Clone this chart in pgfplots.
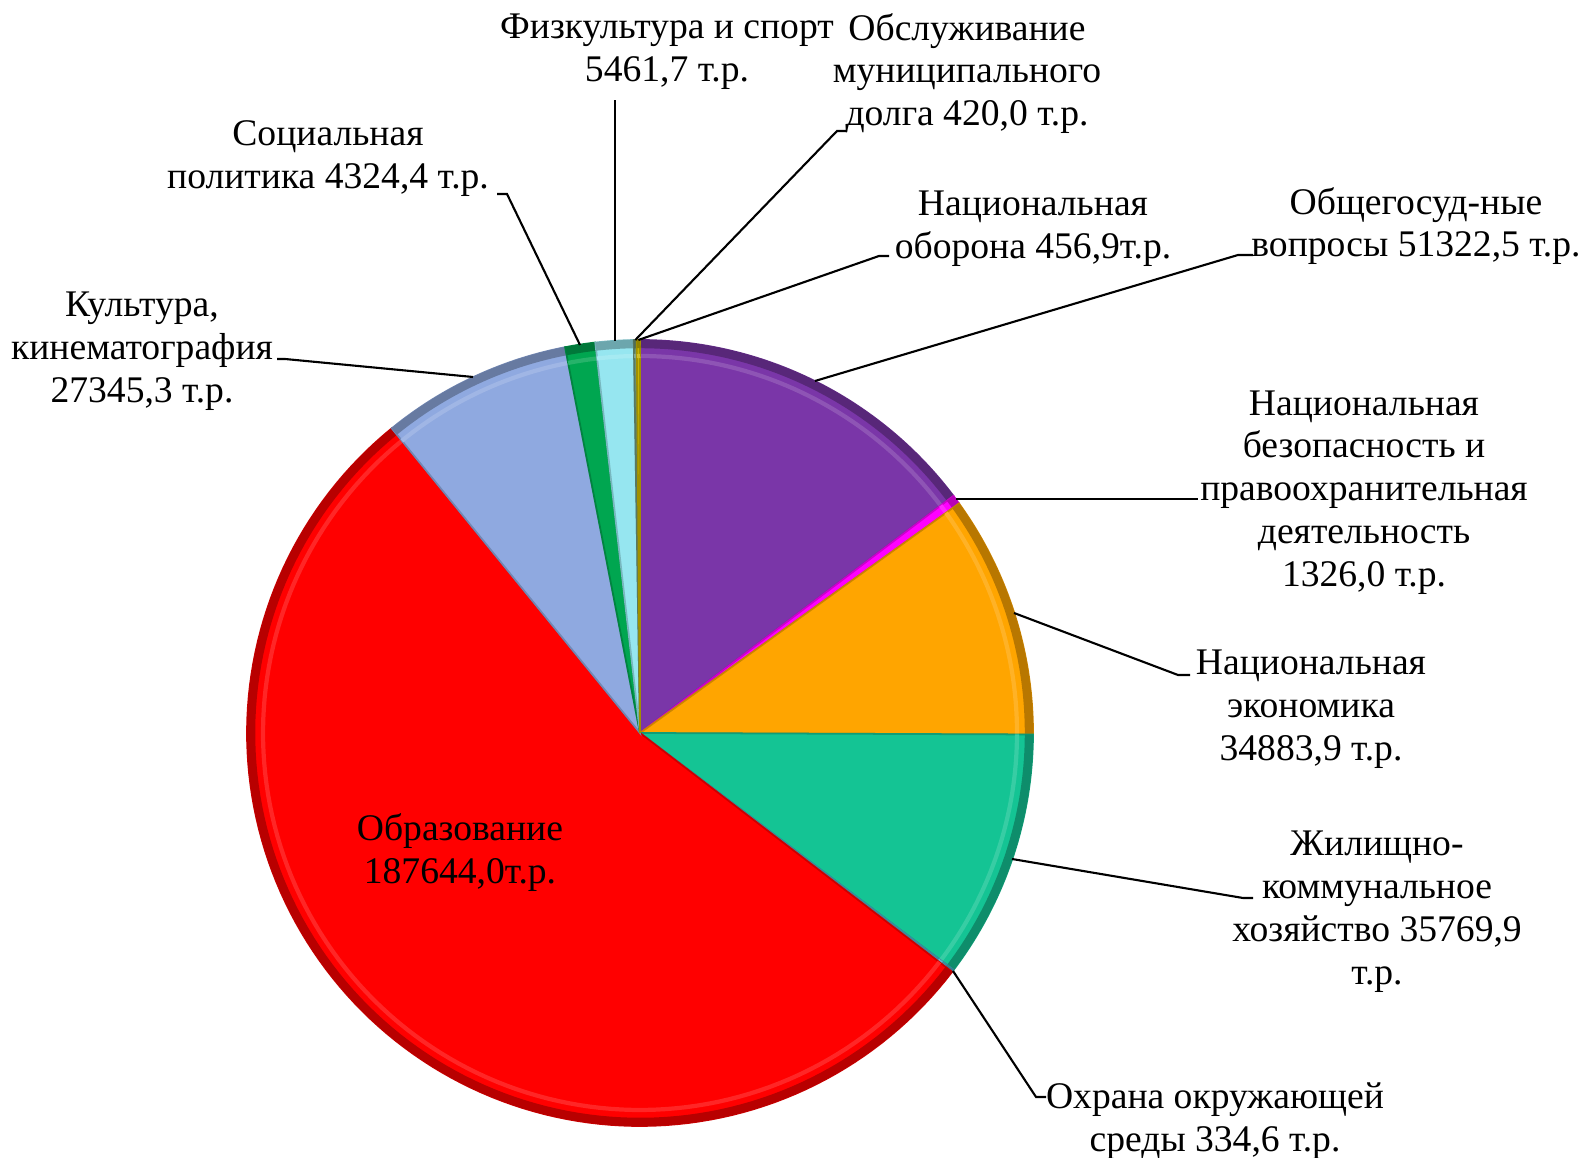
\documentclass[border=0pt]{standalone}
\usepackage{fontspec}
\setmainfont{Liberation Serif}
\usepackage{pgfplots}
\pgfplotsset{compat=1.18}

% values, thousand roubles (clockwise from the top)
\def\vA{51322.5}  % Общегосударственные вопросы
\def\vB{1326.0}   % Нац. безопасность
\def\vC{34883.9}  % Нац. экономика
\def\vD{35769.9}  % ЖКХ
\def\vE{334.6}    % Охрана окр. среды
\def\vF{187644.0} % Образование
\def\vG{27345.3}  % Культура
\def\vH{4324.4}   % Социальная политика
\def\vI{5461.7}   % Физкультура и спорт
\def\vJ{420.0}    % Обслуживание долга
\def\vK{456.9}    % Нац. оборона
\edef\total{\fpeval{\vA+\vB+\vC+\vD+\vE+\vF+\vG+\vH+\vI+\vJ+\vK}}
\edef\sA{90}
\edef\sB{\fpeval{\sA-360*\vA/\total}}
\edef\sC{\fpeval{\sB-360*\vB/\total}}
\edef\sD{\fpeval{\sC-360*\vC/\total}}
\edef\sE{\fpeval{\sD-360*\vD/\total}}
\edef\sF{\fpeval{\sE-360*\vE/\total}}
\edef\sG{\fpeval{\sF-360*\vF/\total}}
\edef\sH{\fpeval{\sG-360*\vG/\total}}
\edef\sI{\fpeval{\sH-360*\vH/\total}}
\edef\sJ{\fpeval{\sI-360*\vI/\total}}
\edef\sK{\fpeval{\sJ-360*\vJ/\total}}
\edef\sL{\fpeval{\sK-360*\vK/\total}}

\definecolor{cA}{RGB}{122,54,168}
\definecolor{cB}{RGB}{255,0,255}
\definecolor{cC}{RGB}{255,165,0}
\definecolor{cD}{RGB}{20,196,148}
\definecolor{cE}{RGB}{75,172,198}
\definecolor{cF}{RGB}{255,0,0}
\definecolor{cG}{RGB}{143,169,224}
\definecolor{cH}{RGB}{0,166,80}
\definecolor{cI}{RGB}{150,230,240}
\definecolor{cJ}{RGB}{110,150,120}
\definecolor{cK}{RGB}{200,180,0}

\newcommand\slice[3]{%
  \addplot[fill=#3, draw=#3!80!black, line width=0.5pt, domain=#2:#1, samples=120, variable=\t]
    ({640+393*cos(t)},{425+393*sin(t)}) -- (axis cs:640,425) -- cycle;
  \addplot[draw=#3!85!white, line width=1.2pt, domain=#2:#1, samples=120, variable=\t]
    ({640+377*cos(t)},{425+377*sin(t)});
  \addplot[draw=#3!72!black, line width=2.4pt, domain=#2:#1, samples=120, variable=\t]
    ({640+389*cos(t)},{425+389*sin(t)});
}

\tikzset{lbl/.style={font=\fontsize{10.7}{12.2}\selectfont, align=center, inner sep=0pt}}

\begin{document}
\begin{tikzpicture}
\begin{axis}[
  width=15.85cm, height=11.58cm, scale only axis,
  xmin=0, xmax=1585, ymin=0, ymax=1158,
  hide axis, clip=false,
]
\slice{\sA}{\sB}{cA}
\slice{\sB}{\sC}{cB}
\slice{\sC}{\sD}{cC}
\slice{\sD}{\sE}{cD}
\slice{\sE}{\sF}{cE}
\slice{\sF}{\sG}{cF}
\slice{\sG}{\sH}{cG}
\slice{\sH}{\sI}{cH}
\slice{\sI}{\sJ}{cI}
\slice{\sJ}{\sK}{cJ}
\slice{\sK}{\sL}{cK}

% leader lines
\addplot[black, line width=0.6pt] coordinates {(580,813) (507,964) (497,964)};
\addplot[black, line width=0.6pt] coordinates {(615,817) (615,1058)};
\addplot[black, line width=0.6pt] coordinates {(635.3,818) (837,1027) (847,1027)};
\addplot[black, line width=0.6pt] coordinates {(638.4,818) (879,902) (889,902)};
\addplot[black, line width=0.6pt] coordinates {(815,777) (1238,903) (1253,903)};
\addplot[black, line width=0.6pt] coordinates {(956,659) (1198,659)};
\addplot[black, line width=0.6pt] coordinates {(1014,545) (1178,483) (1190,483)};
\addplot[black, line width=0.6pt] coordinates {(1012,299) (1243,260) (1253,260)};
\addplot[black, line width=0.6pt] coordinates {(953,187) (1036,61) (1046,61)};
\addplot[black, line width=0.6pt] coordinates {(473,781) (285,799) (277,799)};

% labels
\node[lbl] at (axis cs:667,1106) {Физкультура и спорт\\5461,7 т.р.};
\node[lbl] at (axis cs:967,1084.5) {Обслуживание\\муниципального\\долга 420,0 т.р.};
\node[lbl] at (axis cs:328,999.5) {Социальная\\политика 4324,4 т.р.};
\node[lbl] at (axis cs:1033,929) {Национальная\\оборона 456,9т.р.};
\node[lbl] at (axis cs:1416,932) {Общегосуд-ные\\вопросы 51322,5 т.р.};
\node[lbl] at (axis cs:142,806.5) {Культура,\\кинематография\\27345,3 т.р.};
\node[lbl] at (axis cs:1364,665.5) {Национальная\\безопасность и\\правоохранительная\\деятельность\\1326,0 т.р.};
\node[lbl] at (axis cs:1311,448.5) {Национальная\\экономика\\34883,9 т.р.};
\node[lbl] at (axis cs:1377,246) {Жилищно-\\коммунальное\\хозяйство 35769,9\\т.р.};
\node[lbl] at (axis cs:1215,37) {Охрана окружающей\\среды 334,6 т.р.};
\node[lbl] at (axis cs:460,305.5) {Образование\\187644,0т.р.};
\end{axis}
\pgfresetboundingbox
\useasboundingbox (0,0) rectangle (15.85cm,11.58cm);
\end{tikzpicture}
\end{document}
